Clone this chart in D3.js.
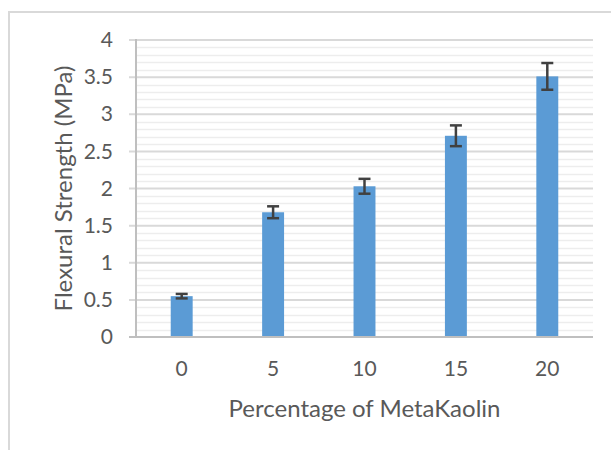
<!DOCTYPE html>
<html>
<head>
<meta charset="utf-8">
<script src="https://cdn.jsdelivr.net/npm/d3@7"></script>
<style>
html,body{margin:0;padding:0;background:#fff;}
svg{display:block;}
text{font-family:Lato,"Open Sans",sans-serif;fill:#595959;}
</style>
</head>
<body>
<svg id="chart" width="611" height="450"></svg>
<script>
const categories = ["0", "5", "10", "15", "20"];
const strength = [0.55, 1.68, 2.03, 2.71, 3.51];
const errors = [0.03, 0.08, 0.10, 0.14, 0.18];
const yTicks = [0, 0.5, 1, 1.5, 2, 2.5, 3, 3.5, 4];
const yTickLabels = ["0", "0.5", "1", "1.5", "2", "2.5", "3", "3.5", "4"];
const xTitle = "Percentage of MetaKaolin";
const yTitle = "Flexural Strength (MPa)";

const svg = d3.select("#chart");
const pLeft = 136, pRight = 593, pTop = 40, pBottom = 337;

// chart border
svg.append("rect").attr("x", 9).attr("y", 12).attr("width", 620).attr("height", 460)
  .attr("fill", "none").attr("stroke", "#d9d9d9").attr("stroke-width", 2);

const x = d3.scaleBand().domain(categories).range([pLeft, pRight]).paddingInner(0.76).paddingOuter(0.38);
const y = d3.scaleLinear().domain([0, 4]).range([pBottom, pTop]);

// minor gridlines
const minor = d3.range(0, 4.0001, 0.1).filter(v => Math.abs(v * 2 - Math.round(v * 2)) > 1e-6);
svg.append("g").selectAll("line").data(minor).join("line")
  .attr("x1", pLeft).attr("x2", pRight)
  .attr("y1", d => Math.round(y(d)) + 0.5).attr("y2", d => Math.round(y(d)) + 0.5)
  .attr("stroke", "#ededed").attr("stroke-width", 1.5);

// major gridlines
svg.append("g").selectAll("line").data(yTicks.filter(v => v > 0)).join("line")
  .attr("x1", pLeft - 7).attr("x2", pRight)
  .attr("y1", d => y(d)).attr("y2", d => y(d))
  .attr("stroke", "#d9d9d9").attr("stroke-width", 2);

// y axis labels via d3 axis
const yAxis = d3.axisLeft(y).tickValues(yTicks).tickFormat((d, i) => yTickLabels[i]).tickSize(0).tickPadding(23);
const gy = svg.append("g").attr("transform", `translate(${pLeft},0)`).call(yAxis);
gy.select(".domain").remove();
gy.selectAll("text").attr("font-size", 21).attr("fill", "#595959").attr("font-family", "Lato, sans-serif");

// bars
svg.append("g").selectAll("rect").data(strength).join("rect")
  .attr("x", (d, i) => x(categories[i]))
  .attr("y", d => y(d))
  .attr("width", x.bandwidth())
  .attr("height", d => y(0) - y(d))
  .attr("fill", "#5b9bd5");

// error bars
const eb = svg.append("g").attr("stroke", "#404040").attr("stroke-width", 2.5).attr("fill", "none");
strength.forEach((v, i) => {
  const cx = x(categories[i]) + x.bandwidth() / 2;
  const hi = y(v + errors[i]), lo = y(v - errors[i]);
  eb.append("line").attr("x1", cx).attr("x2", cx).attr("y1", hi).attr("y2", lo);
  eb.append("line").attr("x1", cx - 6).attr("x2", cx + 6).attr("y1", hi).attr("y2", hi);
  eb.append("line").attr("x1", cx - 6).attr("x2", cx + 6).attr("y1", lo).attr("y2", lo);
});

// axis lines
svg.append("line").attr("x1", pLeft).attr("x2", pLeft).attr("y1", pTop - 1).attr("y2", pBottom)
  .attr("stroke", "#bfbfbf").attr("stroke-width", 2);
svg.append("line").attr("x1", pLeft - 7).attr("x2", pRight).attr("y1", pBottom).attr("y2", pBottom)
  .attr("stroke", "#bfbfbf").attr("stroke-width", 2);

// x axis labels
const xAxis = d3.axisBottom(x).tickSize(0).tickPadding(24);
const gx = svg.append("g").attr("transform", `translate(0,${pBottom})`).call(xAxis);
gx.select(".domain").remove();
gx.selectAll("text").attr("font-size", 21).attr("fill", "#595959").attr("font-family", "Lato, sans-serif");

// titles
svg.append("text").attr("x", (pLeft + pRight) / 2).attr("y", 417).attr("text-anchor", "middle")
  .attr("font-size", 24).text(xTitle);
svg.append("text").attr("transform", `translate(72,${(pTop + pBottom) / 2}) rotate(-90)`)
  .attr("text-anchor", "middle").attr("font-size", 24).text(yTitle);
</script>
</body>
</html>
